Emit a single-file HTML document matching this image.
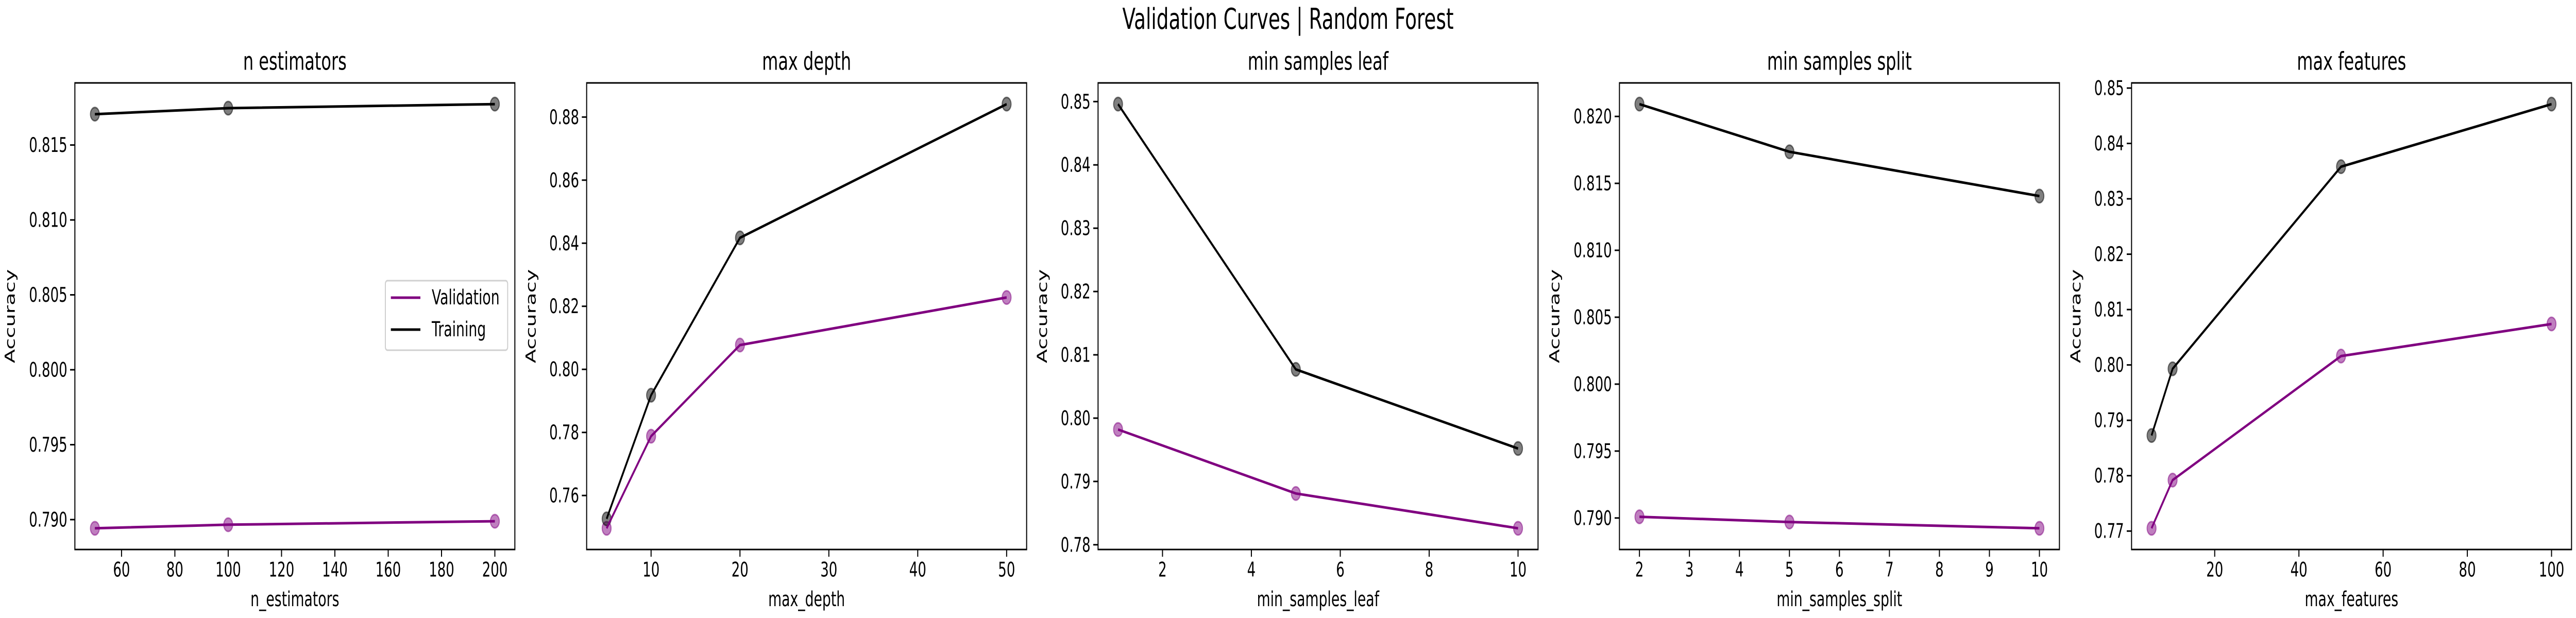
<!DOCTYPE html>
<html><head><meta charset="utf-8"><style>
html,body{margin:0;padding:0;background:#fff;width:100%;height:100%;overflow:hidden;}
svg{display:block;width:100vw;height:100vh;font-family:"DejaVu Sans","Liberation Sans",sans-serif;}
</style></head><body>
<svg id="chart" viewBox="0 0 7500 1200" preserveAspectRatio="none">
<rect width="7500" height="1200" fill="#fff"/>
<text x="3750" y="38" font-size="56" text-anchor="middle" dominant-baseline="central">Validation Curves | Random Forest</text>
</svg>
<script>
// ---- data ----
const titles = ["n estimators","max depth","min samples leaf","min samples split","max features"];
const xLabels = ["n_estimators","max_depth","min_samples_leaf","min_samples_split","max_features"];
const xValues = [[50,100,200],[5,10,20,50],[1,5,10],[2,5,10],[5,10,50,100]];
const trainScores = [
  [0.81706,0.81746,0.81773],
  [0.7526,0.7918,0.8417,0.8841],
  [0.8496,0.8077,0.7952],
  [0.82092,0.81736,0.81405],
  [0.78726,0.7993,0.8358,0.8471]
];
const valScores = [
  [0.78942,0.78966,0.78989],
  [0.7496,0.7788,0.8077,0.8228],
  [0.7982,0.7881,0.7826],
  [0.79009,0.7897,0.78923],
  [0.7705,0.7792,0.8016,0.8074]
];
const yTickLabels = [
  ["0.790","0.795","0.800","0.805","0.810","0.815"],
  ["0.76","0.78","0.80","0.82","0.84","0.86","0.88"],
  ["0.78","0.79","0.80","0.81","0.82","0.83","0.84","0.85"],
  ["0.790","0.795","0.800","0.805","0.810","0.815","0.820"],
  ["0.77","0.78","0.79","0.80","0.81","0.82","0.83","0.84","0.85"]
];
const xTickLabels = [
  ["60","80","100","120","140","160","180","200"],
  ["10","20","30","40","50"],
  ["2","4","6","8","10"],
  ["2","3","4","5","6","7","8","9","10"],
  ["20","40","60","80","100"]
];
const legendLabels = ["Validation","Training"];

// ---- layout ----
const axLeft = [218,1708,3197,4715,6206];
const axW = 1281, axTop = 161, axBottom = 1067;
const PURPLE = "#800080";
const NS = "http://www.w3.org/2000/svg";
const svg = document.getElementById('chart');
function mk(tag, attrs, parent){
  const e = document.createElementNS(NS, tag);
  for (const k in attrs) e.setAttribute(k, attrs[k]);
  (parent||svg).appendChild(e);
  return e;
}
function domain(arr){
  const mn = Math.min(...arr), mx = Math.max(...arr), r = mx - mn;
  return [mn - 0.05*r, mx + 0.05*r];
}

for (let p = 0; p < 5; p++) {
  const g = mk('g', {});
  
  
  const L = axLeft[p];
  const xd = domain(xValues[p]);
  const yd = domain(trainScores[p].concat(valScores[p]));
  const sx = v => L + (v - xd[0]) / (xd[1] - xd[0]) * axW;
  const sy = v => axBottom - (v - yd[0]) / (yd[1] - yd[0]) * (axBottom - axTop);

  const t = mk('text', {x: L + axW/2, y: 119, 'font-size': 48, 'text-anchor': 'middle', 'dominant-baseline': 'central'}, g);
  t.textContent = titles[p];
  
  

  let maxLen = 0;
  yTickLabels[p].forEach(lbl => {
    const y = sy(parseFloat(lbl));
    maxLen = Math.max(maxLen, lbl.length);
    const tk = mk('line', {x1: L - 14, x2: L, y1: y, y2: y, stroke: '#000', 'stroke-width': 3}, g);
    
    
    const tl = mk('text', {x: L - 22, y: y, 'font-size': 39, 'text-anchor': 'end', 'dominant-baseline': 'central'}, g);
    tl.textContent = lbl;
    
    
  });
  xTickLabels[p].forEach(lbl => {
    const x = sx(parseFloat(lbl));
    const tk = mk('line', {x1: x, x2: x, y1: axBottom, y2: axBottom + 14, stroke: '#000', 'stroke-width': 3}, g);
    
    
    const tl = mk('text', {x: x, y: 1106, 'font-size': 39, 'text-anchor': 'middle', 'dominant-baseline': 'central'}, g);
    tl.textContent = lbl;
    
    
  });
  const xl = mk('text', {x: L + axW/2, y: 1164, 'font-size': 40, 'text-anchor': 'middle', 'dominant-baseline': 'central'}, g);
  xl.textContent = xLabels[p];
  
  
  const yx = L - (maxLen >= 5 ? 188 : 162);
  const yl = mk('text', {x: yx, y: 614, 'font-size': 40, 'text-anchor': 'middle', 'dominant-baseline': 'central', transform: `rotate(-90 ${yx} 614)`}, g);
  yl.textContent = 'Accuracy';
  
  

  const series = [[valScores[p], PURPLE, 'validation'], [trainScores[p], '#000', 'training']];
  series.forEach(([vals, col, nm]) => {
    vals.forEach((v, i) => {
      const c = mk('circle', {cx: sx(xValues[p][i]), cy: sy(v), r: 13, fill: col, 'fill-opacity': 0.5, stroke: col, 'stroke-opacity': 0.5, 'stroke-width': 3}, g);
      
      
    });
  });
  series.forEach(([vals, col, nm]) => {
    const pts = vals.map((v, i) => sx(xValues[p][i]).toFixed(1) + ',' + sy(v).toFixed(1)).join(' ');
    const pl = mk('polyline', {points: pts, fill: 'none', stroke: col, 'stroke-width': 5, 'stroke-linejoin': 'round'}, g);
    
    
  });

  const frame = mk('rect', {x: L, y: axTop, width: axW, height: axBottom - axTop, fill: 'none', stroke: '#000', 'stroke-width': 3}, g);
  
  

  if (p === 0) {
    const lg = mk('g', {}, g);
    
    
    mk('rect', {x: 1122, y: 545, width: 356, height: 135, rx: 6, fill: '#fff', 'fill-opacity': 0.8, stroke: '#d0d0d0', 'stroke-width': 3}, lg);
    [[PURPLE, 578], ['#000', 640]].forEach(([col, y], i) => {
      const e = mk('g', {}, lg);
      
      
      mk('line', {x1: 1138, x2: 1224, y1: y, y2: y, stroke: col, 'stroke-width': 5}, e);
      const tx = mk('text', {x: 1257, y: y, 'font-size': 40, 'dominant-baseline': 'central'}, e);
      tx.textContent = legendLabels[i];
    });
  }
}
</script>
</body></html>
